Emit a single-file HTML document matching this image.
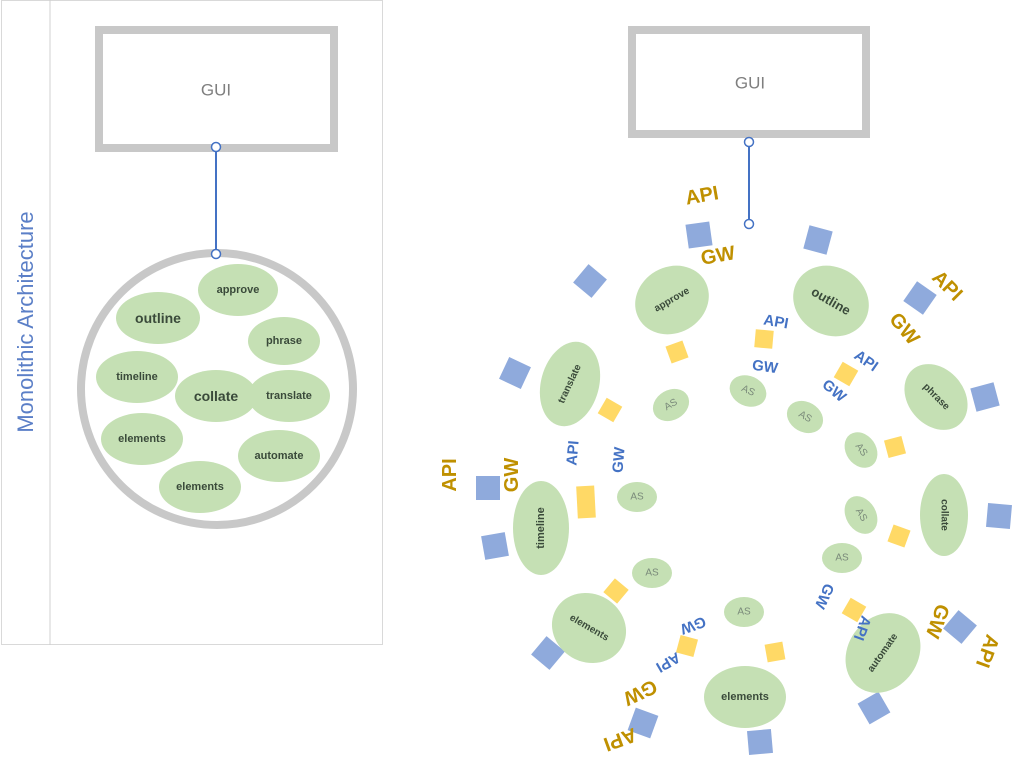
<!DOCTYPE html>
<html><head><meta charset="utf-8"><style>
html,body{margin:0;padding:0;background:#fff;}
svg{display:block;font-family:"Liberation Sans",sans-serif;}
.e{fill:#c5e0b4}
.t{fill:#3a4a3a;font-weight:bold;font-size:11px;text-anchor:middle;dominant-baseline:central}
.as{fill:#7a8a7a;font-size:10px;text-anchor:middle;dominant-baseline:central}
.b{fill:#8faadc}
.y{fill:#ffd966}
.g{fill:#bf9000;font-weight:bold;font-size:20px;text-anchor:middle;dominant-baseline:central}
.bl{fill:#4472c4;font-weight:bold;font-size:15px;text-anchor:middle;dominant-baseline:central}
</style></head><body>
<svg width="1024" height="779" viewBox="0 0 1024 779">
<rect x="1.5" y="0.5" width="381" height="644" fill="none" stroke="#d9d9d9"/>
<line x1="50" y1="0" x2="50" y2="645" stroke="#d0d0d0"/>
<text transform="translate(33,322) rotate(-90)" text-anchor="middle" font-size="22" fill="#5b7fc7">Monolithic Architecture</text>
<rect x="99" y="30" width="235" height="118" fill="#fff" stroke="#c8c8c8" stroke-width="8"/>
<text x="216" y="90" font-size="17" fill="#7f7f7f" text-anchor="middle" dominant-baseline="central">GUI</text>
<line x1="216" y1="147" x2="216" y2="254" stroke="#4472c4" stroke-width="2"/>
<circle cx="216" cy="147" r="4.5" fill="#fff" stroke="#4472c4" stroke-width="1.5"/>
<ellipse cx="217" cy="389" rx="136" ry="136" fill="none" stroke="#c8c8c8" stroke-width="8"/>
<circle cx="216" cy="254" r="4.5" fill="#fff" stroke="#4472c4" stroke-width="1.5"/>
<g>
<ellipse class="e" cx="238" cy="290" rx="40" ry="26"/><text class="t" x="238" y="290">approve</text>
<ellipse class="e" cx="158" cy="318" rx="42" ry="26"/><text class="t" x="158" y="318" style="font-size:14px">outline</text>
<ellipse class="e" cx="284" cy="341" rx="36" ry="24"/><text class="t" x="284" y="341">phrase</text>
<ellipse class="e" cx="137" cy="377" rx="41" ry="26"/><text class="t" x="137" y="377">timeline</text>
<ellipse class="e" cx="216" cy="396" rx="41" ry="26"/><text class="t" x="216" y="396" style="font-size:14px">collate</text>
<ellipse class="e" cx="289" cy="396" rx="41" ry="26"/><text class="t" x="289" y="396">translate</text>
<ellipse class="e" cx="142" cy="439" rx="41" ry="26"/><text class="t" x="142" y="439">elements</text>
<ellipse class="e" cx="279" cy="456" rx="41" ry="26"/><text class="t" x="279" y="456">automate</text>
<ellipse class="e" cx="200" cy="487" rx="41" ry="26"/><text class="t" x="200" y="487">elements</text>
</g>
<rect x="632" y="30" width="234" height="104" fill="#fff" stroke="#c8c8c8" stroke-width="8"/>
<text x="750" y="83" font-size="17" fill="#7f7f7f" text-anchor="middle" dominant-baseline="central">GUI</text>
<line x1="749" y1="142" x2="749" y2="224" stroke="#4472c4" stroke-width="2"/>
<circle cx="749" cy="142" r="4.5" fill="#fff" stroke="#4472c4" stroke-width="1.5"/>
<circle cx="749" cy="224" r="4.5" fill="#fff" stroke="#4472c4" stroke-width="1.5"/>

<rect class="b" x="-12" y="-12" width="24" height="24" transform="translate(699,235) rotate(-8)"/>
<rect class="b" x="-12" y="-12" width="24" height="24" transform="translate(818,240) rotate(15)"/>
<rect class="b" x="-12" y="-12" width="24" height="24" transform="translate(590,281) rotate(40)"/>
<rect class="b" x="-12" y="-12" width="24" height="24" transform="translate(920,298) rotate(35)"/>
<rect class="b" x="-12" y="-12" width="24" height="24" transform="translate(985,397) rotate(-15)"/>
<rect class="b" x="-12" y="-12" width="24" height="24" transform="translate(515,373) rotate(25)"/>
<rect class="b" x="-12" y="-12" width="24" height="24" transform="translate(488,488)"/>
<rect class="b" x="-12" y="-12" width="24" height="24" transform="translate(495,546) rotate(-10)"/>
<rect class="b" x="-12" y="-12" width="24" height="24" transform="translate(548,653) rotate(40)"/>
<rect class="b" x="-12" y="-12" width="24" height="24" transform="translate(643,723) rotate(20)"/>
<rect class="b" x="-12" y="-12" width="24" height="24" transform="translate(760,742) rotate(-5)"/>
<rect class="b" x="-12" y="-12" width="24" height="24" transform="translate(999,516) rotate(5)"/>
<rect class="b" x="-12" y="-12" width="24" height="24" transform="translate(960,627) rotate(40)"/>
<rect class="b" x="-12" y="-12" width="24" height="24" transform="translate(874,708) rotate(-30)"/>

<rect class="y" x="-9" y="-9" width="18" height="18" transform="translate(677,352) rotate(-20)"/>
<rect class="y" x="-9" y="-9" width="18" height="18" transform="translate(764,339) rotate(5)"/>
<rect class="y" x="-9" y="-9" width="18" height="18" transform="translate(846,374) rotate(30)"/>
<rect class="y" x="-9" y="-9" width="18" height="18" transform="translate(610,410) rotate(30)"/>
<rect class="y" x="-9" y="-9" width="18" height="18" transform="translate(895,447) rotate(-15)"/>
<rect class="y" x="-9" y="-16" width="18" height="32" transform="translate(586,502) rotate(-3)"/>
<rect class="y" x="-9" y="-9" width="18" height="18" transform="translate(616,591) rotate(40)"/>
<rect class="y" x="-9" y="-9" width="18" height="18" transform="translate(687,646) rotate(15)"/>
<rect class="y" x="-9" y="-9" width="18" height="18" transform="translate(775,652) rotate(-10)"/>
<rect class="y" x="-9" y="-9" width="18" height="18" transform="translate(899,536) rotate(20)"/>
<rect class="y" x="-9" y="-9" width="18" height="18" transform="translate(854,610) rotate(30)"/>

<g transform="translate(672,300) rotate(-30)"><ellipse class="e" rx="38" ry="33"/><text class="t" style="font-size:10px">approve</text></g>
<g transform="translate(831,301) rotate(30)"><ellipse class="e" rx="39" ry="34"/><text class="t" style="font-size:13px">outline</text></g>
<g transform="translate(936,397) rotate(-40)"><ellipse class="e" rx="28" ry="36"/><text class="t" style="font-size:10px" transform="rotate(85)">phrase</text></g>
<g transform="translate(570,384) rotate(15)"><ellipse class="e" rx="29" ry="43"/><text class="t" style="font-size:10px" transform="rotate(-80)">translate</text></g>
<g transform="translate(541,528)"><ellipse class="e" rx="28" ry="47"/><text class="t" transform="rotate(-90)">timeline</text></g>
<g transform="translate(589,628) rotate(30)"><ellipse class="e" rx="38" ry="34"/><text class="t" style="font-size:10px">elements</text></g>
<g transform="translate(745,697)"><ellipse class="e" rx="41" ry="31"/><text class="t">elements</text></g>
<g transform="translate(944,515)"><ellipse class="e" rx="24" ry="41"/><text class="t" style="font-size:10px" transform="rotate(90)">collate</text></g>
<g transform="translate(883,653) rotate(35)"><ellipse class="e" rx="35" ry="42"/><text class="t" style="font-size:10px" transform="rotate(-90)">automate</text></g>

<g transform="translate(671,405) rotate(-30)"><ellipse class="e" rx="19" ry="15"/><text class="as">AS</text></g>
<g transform="translate(748,391) rotate(25)"><ellipse class="e" rx="19" ry="15"/><text class="as">AS</text></g>
<g transform="translate(805,417) rotate(30)"><ellipse class="e" rx="19" ry="15"/><text class="as">AS</text></g>
<g transform="translate(861,450) rotate(55)"><ellipse class="e" rx="19" ry="15"/><text class="as">AS</text></g>
<g transform="translate(637,497)"><ellipse class="e" rx="20" ry="15"/><text class="as">AS</text></g>
<g transform="translate(652,573)"><ellipse class="e" rx="20" ry="15"/><text class="as">AS</text></g>
<g transform="translate(744,612)"><ellipse class="e" rx="20" ry="15"/><text class="as">AS</text></g>
<g transform="translate(861,515) rotate(60)"><ellipse class="e" rx="20" ry="15"/><text class="as">AS</text></g>
<g transform="translate(842,558)"><ellipse class="e" rx="20" ry="15"/><text class="as">AS</text></g>

<text class="g" transform="translate(702,196) rotate(-10)">API</text>
<text class="g" transform="translate(718,256) rotate(-10)">GW</text>
<text class="g" transform="translate(947,286) rotate(45)">API</text>
<text class="g" transform="translate(904,329) rotate(50)">GW</text>
<text class="g" transform="translate(450,475) rotate(-90)">API</text>
<text class="g" transform="translate(512,475) rotate(-90)">GW</text>
<text class="g" transform="translate(640,692) rotate(155)">GW</text>
<text class="g" transform="translate(620,739) rotate(160)">API</text>
<text class="g" transform="translate(937,621) rotate(110)">GW</text>
<text class="g" transform="translate(987,651) rotate(110)">API</text>

<text class="bl" transform="translate(776,322) rotate(10)">API</text>
<text class="bl" transform="translate(765,367) rotate(8)">GW</text>
<text class="bl" transform="translate(866,361) rotate(35)">API</text>
<text class="bl" transform="translate(834,391) rotate(40)">GW</text>
<text class="bl" transform="translate(573,453) rotate(-85)">API</text>
<text class="bl" transform="translate(619,460) rotate(-85)">GW</text>
<text class="bl" transform="translate(693,625) rotate(160)">GW</text>
<text class="bl" transform="translate(668,662) rotate(150)">API</text>
<text class="bl" transform="translate(824,596) rotate(115)">GW</text>
<text class="bl" transform="translate(862,628) rotate(110)">API</text>
</svg>
</body></html>
